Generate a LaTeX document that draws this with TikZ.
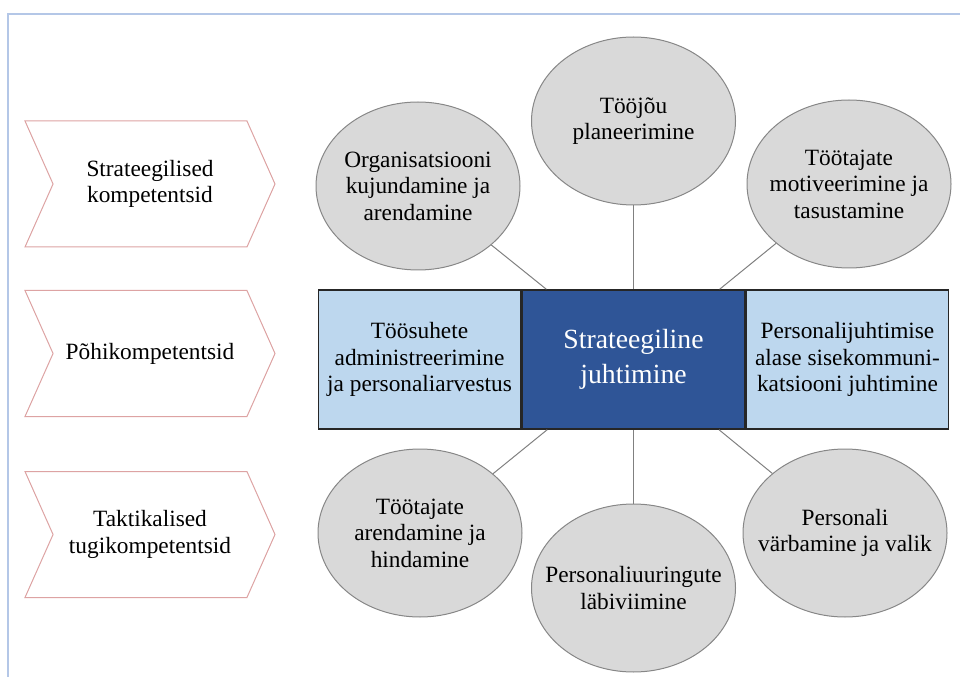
\documentclass[tikz,border=0pt]{standalone}
\usepackage{fontspec}
\setmainfont{Liberation Serif}
\usepackage{tikz}
\usetikzlibrary{positioning,shapes.geometric,shapes.symbols}

\definecolor{framblue}{RGB}{180,199,231}
\definecolor{chevred}{RGB}{221,163,163}
\definecolor{bubblefill}{RGB}{217,217,217}
\definecolor{bubbleline}{RGB}{135,135,135}
\definecolor{sideblue}{RGB}{189,215,238}
\definecolor{coreblue}{RGB}{47,85,151}
\definecolor{boxline}{RGB}{38,38,38}
\definecolor{linegray}{RGB}{128,128,128}

\newcommand{\lbltxt}{\fontsize{17.5}{19.8}\selectfont}
\newcommand{\coretxt}{\fontsize{20.8}{26}\selectfont}

\begin{document}
\begin{tikzpicture}[x=0.75pt,y=-0.75pt]
\tikzstyle{lvl}=[signal, signal from=west, signal to=east, signal pointer angle=132, draw=chevred, line width=0.75pt, fill=white, minimum width=187.5pt, minimum height=94.5pt, inner sep=0pt, align=center, font=\lbltxt]
\tikzstyle{bubble}=[ellipse, draw=bubbleline, line width=0.75pt, fill=bubblefill, minimum width=153pt, minimum height=126pt, inner sep=0pt]
\tikzstyle{inside}=[align=center, font=\lbltxt, inner sep=0pt]
\tikzstyle{side}=[rectangle, draw=boxline, line width=1.1pt, fill=sideblue, minimum width=151.5pt, minimum height=104.25pt, inner sep=0pt, align=center, font=\lbltxt]
\tikzstyle{core}=[side, fill=coreblue, text=white, minimum width=167.25pt, font=\coretxt]
\tikzstyle{connect}=[draw=linegray, line width=0.75pt]

  \useasboundingbox (0,0) rectangle (960,677);
  \draw[framblue, line width=1.5pt] (8,677) -- (8,14) -- (960,14);

  \node[lvl] (strk) at (150,184) {Strateegilised\\kompetentsid};
  \node[lvl] (pohik) at (150,353.5) {Põhikompetentsid};
  \node[lvl] (taktk) at (150,534.5) {Taktikalised\\tugikompetentsid};

  \node[core] (strat) at (633.5,359.5) {Strateegiline\\juhtimine};
  \node[side, left=0pt of strat] (toosuhted) {Töösuhete\\administreerimine\\ja personaliarvestus};
  \node[side, right=0pt of strat] (sisekomm) {Personalijuhtimise\\alase sisekommuni-\\katsiooni juhtimine};

  \node[bubble] (org) at (418,186) [label={[inside]center:{Organisatsiooni\\kujundamine ja\\arendamine}}] {};
  \node[bubble] (tooj) at (633.5,121) [label={[inside]center:{Tööjõu\\planeerimine}}] {};
  \node[bubble] (motiv) at (849,184) [label={[inside]center:{Töötajate\\motiveerimine ja\\tasustamine}}] {};
  \node[bubble] (arend) at (420,533) [label={[inside]center:{Töötajate\\arendamine ja\\hindamine}}] {};
  \node[bubble] (uuring) at (633.5,588) [label={[inside]center:{Personaliuuringute\\läbiviimine}}] {};
  \node[bubble] (varb) at (845,533) [label={[inside]center:{Personali\\värbamine ja valik}}] {};

  \path (org) edge [connect] (strat);
  \path (tooj) edge [connect] (strat);
  \path (motiv) edge [connect] (strat);
  \path (arend) edge [connect] (strat);
  \path (uuring) edge [connect] (strat);
  \path (varb) edge [connect] (strat);
\end{tikzpicture}
\end{document}
